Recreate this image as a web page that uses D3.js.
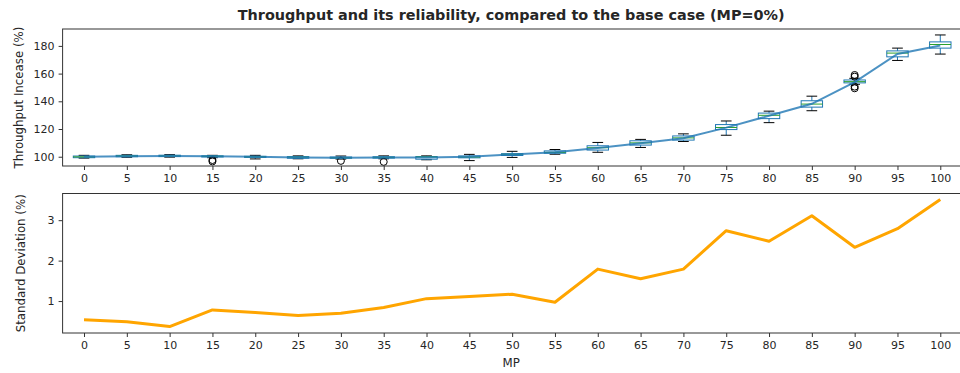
<!DOCTYPE html>
<html>
<head>
<meta charset="utf-8">
<script src="https://cdn.jsdelivr.net/npm/d3@7"></script>
<style>
  body { margin: 0; background: #fff; }
  svg { display: block; }
  text { font-family: "DejaVu Sans", sans-serif; fill: #262626; }
</style>
</head>
<body>
<svg id="chart" width="960" height="373"></svg>
<script>
// ---- data ----
const categories = [0, 5, 10, 15, 20, 25, 30, 35, 40, 45, 50, 55, 60, 65, 70, 75, 80, 85, 90, 95, 100];
const whiskerLow  = [99.0, 99.6, 99.7, 99.3, 98.4, 98.5, 98.3, 98.5, 97.8, 97.2, 99.5, 101.8, 103.2, 106.7, 111.0, 115.5, 124.6, 133.2, 152.3, 169.5, 174.1];
const q1          = [99.3, 100.0, 100.1, 99.8, 99.5, 98.9, 98.9, 99.0, 98.2, 99.2, 100.9, 102.5, 104.8, 108.4, 112.0, 119.6, 127.5, 135.8, 153.3, 172.1, 178.4];
const medians     = [99.9, 100.5, 100.6, 100.3, 100.0, 99.6, 99.3, 99.5, 99.8, 99.8, 101.7, 103.1, 106.5, 110.0, 113.6, 121.1, 129.9, 138.0, 154.2, 174.8, 181.0];
const q3          = [100.5, 101.0, 101.1, 100.6, 100.3, 100.1, 99.8, 100.0, 100.1, 100.6, 102.2, 104.2, 107.9, 111.5, 115.0, 123.2, 131.5, 140.4, 155.4, 176.4, 182.9];
const whiskerHigh = [101.0, 101.4, 101.5, 101.0, 101.0, 100.6, 100.5, 100.6, 100.6, 101.7, 103.9, 105.2, 110.3, 112.5, 116.5, 125.8, 132.9, 143.7, 156.6, 178.4, 187.9];
const fliers      = [[], [], [], [97.6, 96.6], [], [], [97.0], [96.3], [], [], [], [], [], [], [], [], [], [], [159.0, 157.8, 149.4, 150.6], [], []];
const meanThroughput = [100.0, 100.4, 100.6, 100.3, 100.0, 99.5, 99.3, 99.5, 99.5, 99.9, 101.6, 103.3, 106.3, 109.8, 113.4, 121.0, 129.6, 138.2, 153.9, 174.2, 180.3];
const stdDev = [0.54, 0.49, 0.37, 0.78, 0.72, 0.64, 0.70, 0.84, 1.06, 1.11, 1.17, 0.97, 1.79, 1.55, 1.79, 2.74, 2.48, 3.11, 2.33, 2.79, 3.51];
const topYTicks = [100, 120, 140, 160, 180];
const bottomYTicks = [1, 2, 3];
const titleText = "Throughput and its reliability, compared to the base case (MP=0%)";

// ---- layout ----
const svg = d3.select("#chart");
const left = 62.6, right = 961.7;
const top1 = 29, bot1 = 166;
const top2 = 193.5, bot2 = 333;

const x = d3.scaleLinear().domain([-0.5, categories.length - 0.5]).range([left, right]);
const unit = x(1) - x(0);
const y1 = d3.scaleLinear().domain([93.3, 192.2]).range([bot1, top1]);
const y2 = d3.scaleLinear().domain([0.21, 3.66]).range([bot2, top2]);

const axisColor = "#333";
const tickFont = "11px";
const labelFont = "11.8px";

function drawFrame(yTop, yBot) {
  svg.append("rect")
    .attr("x", left).attr("y", yTop)
    .attr("width", right - left).attr("height", yBot - yTop)
    .attr("fill", "none").attr("stroke", axisColor).attr("stroke-width", 1);
}

function styleAxis(g) {
  g.selectAll("path.domain").remove();
  g.selectAll(".tick line").attr("stroke", axisColor);
  g.selectAll(".tick text").style("font-family", "DejaVu Sans").style("font-size", tickFont).attr("fill", "#262626");
}

const xAxis = d3.axisBottom(x)
  .tickValues(d3.range(categories.length))
  .tickFormat(i => categories[i])
  .tickSize(4).tickPadding(4);

// ---------- top chart ----------
const gTop = svg.append("g");
const clip1 = svg.append("clipPath").attr("id", "clip1");
clip1.append("rect").attr("x", left).attr("y", top1).attr("width", right - left).attr("height", bot1 - top1);

const boxes = gTop.append("g").attr("clip-path", "url(#clip1)");
const boxW = unit * 0.5, capW = unit * 0.25;
categories.forEach((c, i) => {
  const cx = x(i);
  const g = boxes.append("g");
  g.append("line").attr("x1", cx).attr("x2", cx).attr("y1", y1(q1[i])).attr("y2", y1(whiskerLow[i]))
    .attr("stroke", "#1f77b4").attr("stroke-width", 1);
  g.append("line").attr("x1", cx).attr("x2", cx).attr("y1", y1(q3[i])).attr("y2", y1(whiskerHigh[i]))
    .attr("stroke", "#1f77b4").attr("stroke-width", 1);
  [whiskerLow[i], whiskerHigh[i]].forEach(v => {
    g.append("line").attr("x1", cx - capW / 2).attr("x2", cx + capW / 2).attr("y1", y1(v)).attr("y2", y1(v))
      .attr("stroke", "#000").attr("stroke-width", 1);
  });
  g.append("rect").attr("x", cx - boxW / 2).attr("width", boxW)
    .attr("y", y1(q3[i])).attr("height", Math.max(0.5, y1(q1[i]) - y1(q3[i])))
    .attr("fill", "none").attr("stroke", "#1f77b4").attr("stroke-width", 1);
  g.append("line").attr("x1", cx - boxW / 2).attr("x2", cx + boxW / 2).attr("y1", y1(medians[i])).attr("y2", y1(medians[i]))
    .attr("stroke", "#2ca02c").attr("stroke-width", 1);
  fliers[i].forEach(v => {
    g.append("circle").attr("cx", cx).attr("cy", y1(v)).attr("r", 3.5)
      .attr("fill", "none").attr("stroke", "#000").attr("stroke-width", 1);
  });
});

boxes.append("path")
  .datum(meanThroughput)
  .attr("d", d3.line().x((d, i) => x(i)).y(d => y1(d)))
  .attr("fill", "none").attr("stroke", "#1f77b4").attr("stroke-opacity", 0.8).attr("stroke-width", 2);

drawFrame(top1, bot1);

gTop.append("g").attr("transform", `translate(0,${bot1})`).call(xAxis).call(styleAxis);
gTop.append("g").attr("transform", `translate(${left},0)`)
  .call(d3.axisLeft(y1).tickValues(topYTicks).tickFormat(d3.format("d")).tickSize(4).tickPadding(4))
  .call(styleAxis);

svg.append("text").attr("x", (left + right) / 2 - 1).attr("y", 20)
  .attr("text-anchor", "middle").style("font-size", "14.4px").style("font-weight", "bold")
  .attr("fill", "#000").text(titleText);

svg.append("text")
  .attr("transform", `translate(22.5,${(top1 + bot1) / 2}) rotate(-90)`)
  .attr("text-anchor", "middle").style("font-size", labelFont).text("Throughput Incease (%)");

// ---------- bottom chart ----------
const gBot = svg.append("g");
const clip2 = svg.append("clipPath").attr("id", "clip2");
clip2.append("rect").attr("x", left).attr("y", top2).attr("width", right - left).attr("height", bot2 - top2);

gBot.append("path")
  .attr("clip-path", "url(#clip2)")
  .datum(stdDev)
  .attr("d", d3.line().x((d, i) => x(i)).y(d => y2(d)))
  .attr("fill", "none").attr("stroke", "#FFA500").attr("stroke-width", 3).attr("stroke-linejoin", "round");

drawFrame(top2, bot2);

gBot.append("g").attr("transform", `translate(0,${bot2})`).call(xAxis).call(styleAxis);
gBot.append("g").attr("transform", `translate(${left},0)`)
  .call(d3.axisLeft(y2).tickValues(bottomYTicks).tickFormat(d3.format("d")).tickSize(4).tickPadding(4))
  .call(styleAxis);

svg.append("text")
  .attr("transform", `translate(24.5,${(top2 + bot2) / 2}) rotate(-90)`)
  .attr("text-anchor", "middle").style("font-size", labelFont).text("Standard Deviation (%)");

svg.append("text").attr("x", (left + right) / 2 - 1).attr("y", 367)
  .attr("text-anchor", "middle").style("font-size", labelFont).text("MP");
</script>
</body>
</html>
